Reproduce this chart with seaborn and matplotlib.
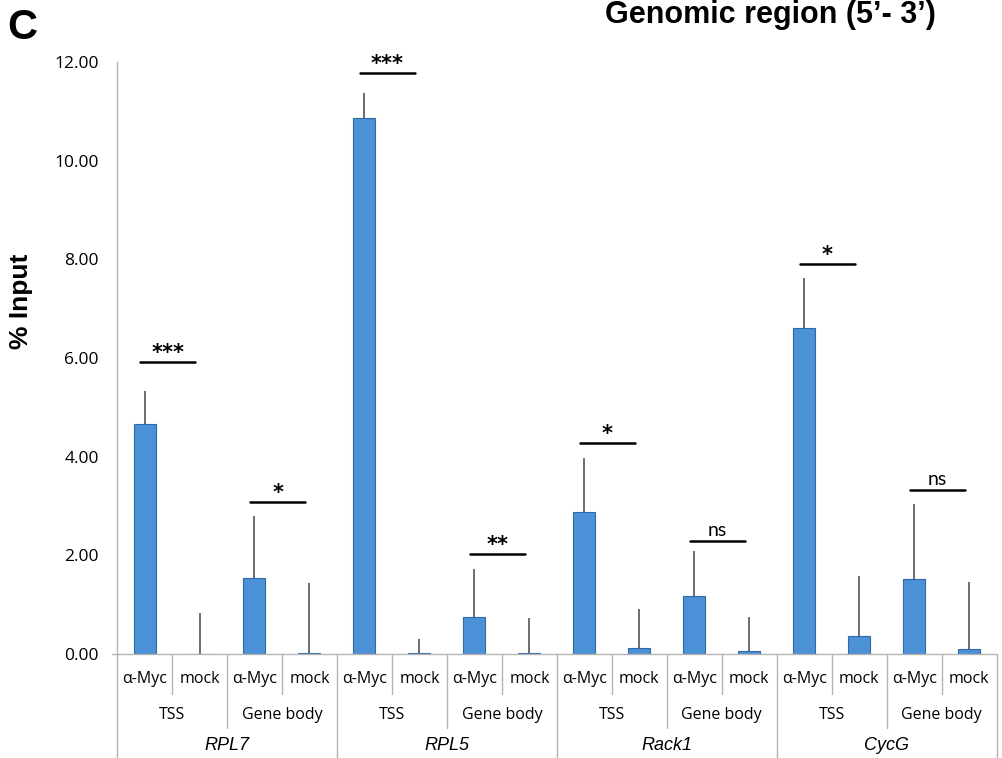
import numpy as np
import pandas as pd
import seaborn as sns
import matplotlib.pyplot as plt
import matplotlib.transforms as mtransforms

# data
genes = ['RPL7', 'RPL5', 'Rack1', 'CycG']
regions = ['TSS', 'Gene body']
conditions = ['α-Myc', 'mock']

values = [4.66, 0.01, 1.54, 0.02,
          10.87, 0.02, 0.75, 0.02,
          2.88, 0.12, 1.18, 0.07,
          6.61, 0.37, 1.52, 0.10]
errors = [0.67, 0.82, 1.26, 1.42,
          0.50, 0.28, 0.97, 0.71,
          1.09, 0.79, 0.91, 0.68,
          1.01, 1.21, 1.52, 1.36]

# significance: (bar index of alpha-Myc, bracket height, label)
sig_pos = [0, 2, 4, 6, 8, 10, 12, 14]
sig_y = [5.92, 3.08, 11.78, 2.03, 4.28, 2.29, 7.91, 3.32]
sig_text = ['***', '*', '***', '**', '*', 'ns', '*', 'ns']

rows = []
for g in genes:
    for r in regions:
        for c in conditions:
            rows.append((g, r, c))
df = pd.DataFrame(rows, columns=['gene', 'region', 'cond'])
df['key'] = df['gene'] + '|' + df['region'] + '|' + df['cond']
df['value'] = values
df['err'] = errors

sns.set_style('white')
plt.rcParams['font.family'] = ['Liberation Sans', 'DejaVu Sans']
plt.rcParams['text.color'] = 'black'
plt.rcParams['axes.labelcolor'] = 'black'
plt.rcParams['ytick.labelcolor'] = 'black'

fig = plt.figure(figsize=(10.03, 7.58), dpi=100)
ax = fig.add_axes([0.1167, 0.1372, 0.877, 0.781])

grey = '#b4b4b4'
sns.barplot(data=df, x='key', y='value', order=df['key'], color='#4b91d8',
            width=0.4, edgecolor='#2e6aab', linewidth=0.8, errorbar=None,
            saturation=1, ax=ax)
xs = np.arange(len(df))
ax.errorbar(xs, df['value'], yerr=[np.zeros(len(df)), df['err']], fmt='none',
            ecolor='#454545', elinewidth=1.1, capsize=0)

for i, yv, t in zip(sig_pos, sig_y, sig_text):
    ax.plot([i - 0.08, i + 0.92], [yv, yv], color='black', lw=1.8)
    if t == 'ns':
        ax.text(i + 0.42, yv + 0.04, t, ha='center', va='bottom', fontsize=14,
                family=['Lato'])
    else:
        ax.text(i + 0.42, yv - 0.02, t, ha='center', va='bottom', fontsize=15,
                fontweight='bold', family=['DejaVu Sans'])

ax.set_xlim(-0.5, len(df) - 0.5)
ax.set_ylim(0, 12)
ax.set_yticks(np.arange(0, 12.01, 2))
ax.set_yticklabels([f'{v:.2f}' for v in np.arange(0, 12.01, 2)], family=['Open Sans'], fontsize=12.5)
ax.tick_params(axis='y', length=5, color=grey, width=1, pad=8)
ax.tick_params(axis='x', length=0, labelbottom=False)
ax.set_xlabel('')
ax.set_ylabel('% Input', fontsize=19, fontweight='bold')
ax.yaxis.set_label_coords(-0.095, 0.596)
for s in ['top', 'right']:
    ax.spines[s].set_visible(False)
ax.spines['left'].set_color(grey)
ax.spines['bottom'].set_color(grey)
ax.spines['left'].set_linewidth(1)
ax.spines['bottom'].set_linewidth(1)

# multi-level category axis below the plot
trans = mtransforms.blended_transform_factory(ax.transData, fig.transFigure)
def fy(px):
    return 1 - px / 758

ax.plot([-0.6, -0.5], [0, 0], color=grey, lw=1, clip_on=False)
for i, row in df.iterrows():
    ax.text(i, fy(679), row['cond'], transform=trans, ha='center', va='center',
            fontsize=11.5, family=['Open Sans', 'DejaVu Serif'])
for k in range(len(df) + 1):
    xb = k - 0.5
    if k % 4 == 0:
        y1 = fy(758)
    elif k % 2 == 0:
        y1 = fy(728)
    else:
        y1 = fy(694)
    ax.plot([xb, xb], [fy(654), y1], transform=trans, color=grey, lw=1, clip_on=False)
for j in range(len(genes) * 2):
    ax.text(2 * j + 0.5, fy(715), regions[j % 2], transform=trans, ha='center', va='center',
            fontsize=11.5, family=['Open Sans'])
for j, g in enumerate(genes):
    ax.text(4 * j + 1.5, fy(745), g, transform=trans, ha='center', va='center',
            fontsize=13, style='italic')

fig.text(0.007, 0.963, 'C', fontsize=30, fontweight='bold', va='center', ha='left')
fig.text(0.768, 0.980, 'Genomic region (5\u2019- 3\u2019)', fontsize=22, fontweight='bold',
         va='center', ha='center')

fig.savefig('out.png', dpi=100)
